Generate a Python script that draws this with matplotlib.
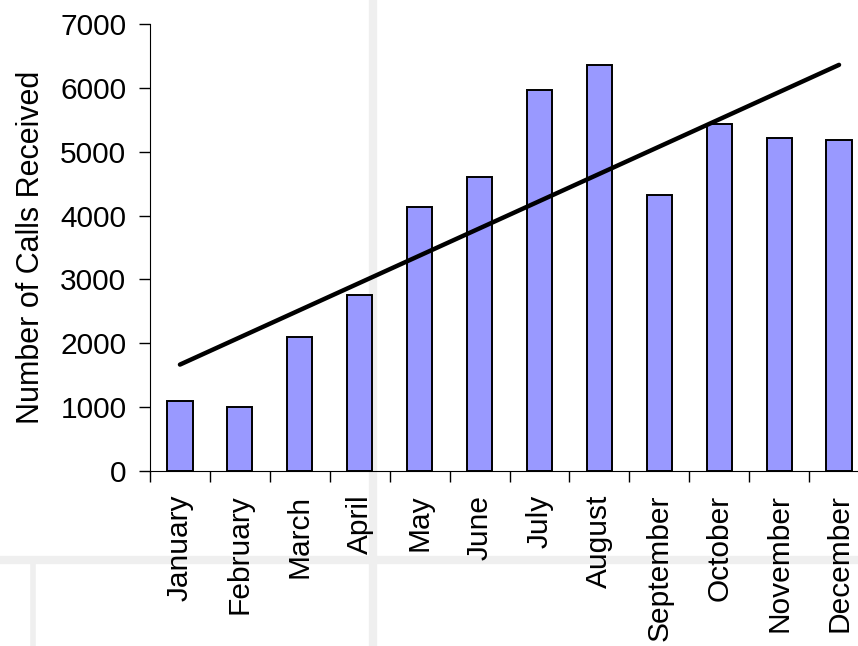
import matplotlib.pyplot as plt
import numpy as np
from matplotlib.lines import Line2D

plt.rcParams['font.family'] = ['Liberation Sans', 'DejaVu Sans']

months = ['January', 'February', 'March', 'April', 'May', 'June',
          'July', 'August', 'September', 'October', 'November', 'December']
calls = [1100, 1000, 2100, 2750, 4130, 4610, 5960, 6360, 4320, 5440, 5210, 5180]
y_ticks = [0, 1000, 2000, 3000, 4000, 5000, 6000, 7000]

fig = plt.figure(figsize=(8.58, 6.46), dpi=100)

# faint watermark behind the chart (just the two main bands)
wm = '#efefef'
fig.add_artist(Line2D([373/858, 373/858], [0, 1], color=wm, lw=6, zorder=0))
fig.add_artist(Line2D([0, 1], [1 - 560/646, 1 - 560/646], color=wm, lw=6, zorder=0))
fig.add_artist(Line2D([33/858, 33/858], [0, 1 - 560/646], color=wm, lw=4, zorder=0))

ax = fig.add_axes([150/858, 1 - 471/646, 719/858, 447/646])
ax.patch.set_alpha(0)

x = np.arange(len(months))
ax.bar(x, calls, width=0.42, color='#9999ff', edgecolor='black', linewidth=1.4, zorder=2)

# linear trendline
k, b = np.polyfit(x, calls, 1)
ax.plot(x, k * x + b, color='black', lw=3.2, solid_capstyle='round', zorder=3)

ax.set_xlim(-0.5, len(months) - 0.5)
ax.set_ylim(0, 7000)
ax.set_yticks(y_ticks)
ax.set_xticks(x)
ax.set_xticklabels(months, rotation=90, fontsize=21.5)
ax.set_xticks(np.arange(len(months) + 1) - 0.5, minor=True)
ax.tick_params(axis='x', which='major', length=0, pad=17)
ax.tick_params(axis='x', which='minor', length=8, width=1, direction='out')
ax.tick_params(axis='y', labelsize=21.5, length=8, width=1, pad=9)
ax.set_ylabel('Number of Calls Received', fontsize=22, labelpad=10)

ax.spines['top'].set_visible(False)
ax.spines['right'].set_visible(False)

fig.savefig('out.png', dpi=100)
